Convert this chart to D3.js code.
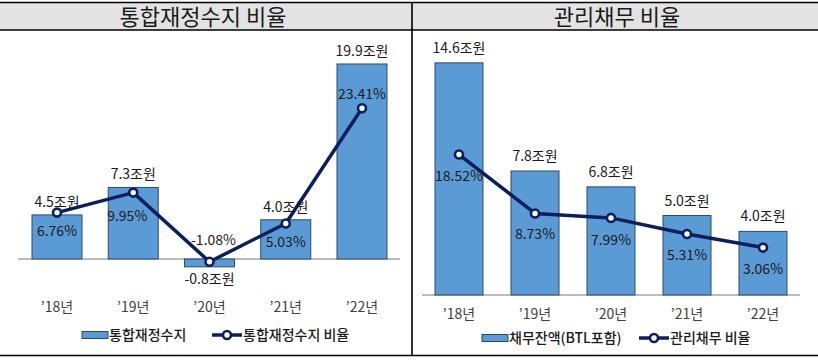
<!DOCTYPE html>
<html><head><meta charset="utf-8">
<script src="https://cdn.jsdelivr.net/npm/d3@7"></script>
<style>body{margin:0;background:#fff}svg{display:block}text{font-family:"Noto Sans CJK KR","Noto Sans",sans-serif}</style>
</head><body>
<svg id="c" width="818" height="361"></svg>
<script>
const years = ["’18년","’19년","’20년","’21년","’22년"];
const leftTitle = "통합재정수지 비율";
const rightTitle = "관리채무 비율";
const balance = [4.5, 7.3, -0.8, 4.0, 19.9];
const balanceRatio = [6.76, 9.95, -1.08, 5.03, 23.41];
const debt = [14.6, 7.8, 6.8, 5.0, 4.0];
const debtRatio = [18.52, 8.73, 7.99, 5.31, 3.06];
const leftLegend = ["통합재정수지","통합재정수지 비율"];
const rightLegend = ["채무잔액(BTL포함)","관리채무 비율"];

const svg = d3.select("#c");
const BAR = "#5b9bd5", BARS = "#2e4a6b", LINE = "#0b1f5e", TXT = "#1a1a1a";

// table frame
svg.append("rect").attr("x",0).attr("y",2.5).attr("width",818).attr("height",27.5).attr("fill","#e3e3e3");
[[0,2.5,818,2.5],[0,30,818,30],[0,355.5,818,355.5],[412,2.5,412,355.5]].forEach(l=>
  svg.append("line").attr("x1",l[0]).attr("y1",l[1]).attr("x2",l[2]).attr("y2",l[3]).attr("stroke","#000").attr("stroke-width",1.6));
svg.append("text").attr("x",203).attr("y",24.5).attr("text-anchor","middle").attr("font-size",22).attr("fill",TXT).text(leftTitle);
svg.append("text").attr("x",617).attr("y",24.5).attr("text-anchor","middle").attr("font-size",22).attr("fill",TXT).text(rightTitle);

function panel(o){
  const g = svg.append("g");
  const x = d3.scalePoint().domain(years).range(o.xr);
  const yb = d3.scaleLinear().domain(o.bd).range(o.br);
  const yl = d3.scaleLinear().domain(o.ld).range(o.lr);
  const bw = o.bw;
  g.append("line").attr("x1",o.ax[0]).attr("x2",o.ax[1]).attr("y1",yb(0)).attr("y2",yb(0)).attr("stroke","#a6a6a6").attr("stroke-width",1.5);
  g.selectAll(".bar").data(o.bars).join("rect")
    .attr("x",(d,i)=>x(years[i])-bw/2).attr("width",bw)
    .attr("y",d=>Math.min(yb(d),yb(0))).attr("height",d=>Math.abs(yb(d)-yb(0)))
    .attr("fill",BAR).attr("stroke",BARS).attr("stroke-width",1);
  const line = d3.line().x((d,i)=>x(years[i])).y(d=>yl(d));
  g.append("path").datum(o.line).attr("d",line).attr("fill","none").attr("stroke",LINE).attr("stroke-width",3.5).attr("stroke-linejoin","round");
  g.selectAll(".pt").data(o.line).join("circle")
    .attr("cx",(d,i)=>x(years[i])).attr("cy",d=>yl(d)).attr("r",4)
    .attr("fill","#fff").attr("stroke",LINE).attr("stroke-width",2.6);
  g.selectAll(".bl").data(o.bars).join("text")
    .attr("x",(d,i)=>x(years[i])).attr("y",d=>d>=0? yb(d)-o.boff : yb(d)+17)
    .attr("text-anchor","middle").attr("font-size",14).attr("fill",TXT).text(d=>d.toFixed(1)+"조원");
  g.selectAll(".pl").data(o.line).join("text")
    .attr("x",(d,i)=>x(years[i])+o.pdx[i]).attr("y",(d,i)=>yl(d)+o.pdy[i])
    .attr("text-anchor","middle").attr("font-size",14).attr("fill",TXT).text(d=>d.toFixed(2)+"%");
  g.selectAll(".xl").data(years).join("text")
    .attr("x",d=>x(d)).attr("y",o.xly).attr("text-anchor","middle").attr("font-size",14).attr("fill","#404040").text(d=>d);
  const L = o.leg, ly = o.legy;
  g.append("rect").attr("x",L.r).attr("y",ly-3.5).attr("width",26).attr("height",7).attr("fill",BAR).attr("stroke",BARS).attr("stroke-width",1);
  g.append("text").attr("x",L.r+27).attr("y",ly+5).attr("font-size",14).attr("font-weight",500).attr("fill",TXT).text(o.legText[0]);
  g.append("line").attr("x1",L.l).attr("x2",L.l+30).attr("y1",ly).attr("y2",ly).attr("stroke",LINE).attr("stroke-width",3.5);
  g.append("circle").attr("cx",L.l+15).attr("cy",ly).attr("r",4).attr("fill","#fff").attr("stroke",LINE).attr("stroke-width",2.6);
  g.append("text").attr("x",L.l+31).attr("y",ly+5).attr("font-size",14).attr("font-weight",500).attr("fill",TXT).text(o.legText[1]);
}

panel({xr:[57,362], bw:50, ax:[18,400],
  bd:[-2,20], br:[278.6,63], ld:[-2,25], lr:[267.54,98.25],
  bars:balance, line:balanceRatio, boff:8,
  pdx:[0,-6,4,0,0], pdy:[23,28,-17,24,-9],
  xly:312, legy:335, leg:{r:82,l:212}, legText:leftLegend});

panel({xr:[459,763], bw:48, ax:[422,800],
  bd:[0,15], br:[295,56.5], ld:[0,20], lr:[266,145.6],
  bars:debt, line:debtRatio, boff:10,
  pdx:[0,0,0,0,0], pdy:[26,26,27,26,26],
  xly:319, legy:338, leg:{r:482,l:639}, legText:rightLegend});
</script>
</body></html>
